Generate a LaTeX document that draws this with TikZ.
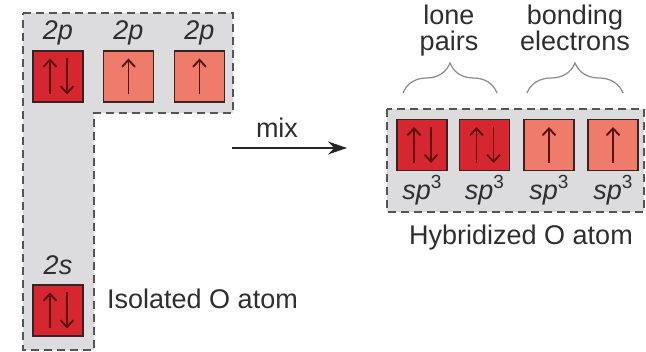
\documentclass[tikz,border=0pt]{standalone}
\usepackage{fontspec}
\setmainfont{Liberation Sans}
\usetikzlibrary{arrows.meta,decorations.pathreplacing}
\definecolor{bgray}{HTML}{DCDCDE}
\definecolor{dashc}{HTML}{555555}
\definecolor{darkred}{HTML}{D6262F}
\definecolor{lightred}{HTML}{EF7B6B}
\definecolor{boxedge}{HTML}{3A2222}
\definecolor{spin}{HTML}{5C1010}
\definecolor{txt}{HTML}{2E2E2E}
\definecolor{bracec}{HTML}{8A8A8A}
\newcommand\spinup[2]{\draw[spinarrow] ([xshift=#2pt]#1.center) ++(0,18) -- ++(0,-36);}
\newcommand\spindown[2]{\draw[spinarrow] ([xshift=#2pt]#1.center) ++(0,-18) -- ++(0,36);}
\newcommand\spthree{\textit{sp}\raisebox{0.42em}{\fontsize{19}{19}\selectfont 3}}
\begin{document}
\begin{tikzpicture}[x=1pt,y=-1pt,
 region/.style={fill=bgray,draw=dashc,line width=1.8pt,dash pattern=on 8pt off 5pt},
 orb/.style={draw=boxedge,line width=1.4pt,minimum width=50pt,minimum height=51pt,inner sep=0pt},
 paired/.style={orb,fill=darkred},
 single/.style={orb,fill=lightred},
 lbl/.style={font=\fontsize{27}{27}\selectfont,text=txt,anchor=base,inner sep=0pt},
 spinarrow/.style={draw=spin,line width=1.9pt,-{Straight Barb[length=7pt,width=13pt]}},
 bracedeco/.style={draw=bracec,line width=1.2pt,decorate,decoration={brace,amplitude=30pt}},
 mixarrow/.style={draw=black!85,line width=1.6pt,-{Stealth[length=19pt,width=13pt]}},
 ]
\useasboundingbox (0,0) rectangle (646,352);
% regions
\draw[region] (23,13) -- (233,13) -- (233,113) -- (94,113) -- (94,350) -- (23,350) -- cycle;
\draw[region] (387,109) rectangle (644,212);
% isolated atom orbitals
\node[paired] (p1) at (58,76.5) {};
\node[single] (p2) at (128.5,76.5) {};
\node[single] (p3) at (199.5,76.5) {};
\node[paired] (s1) at (58,310.5) {};
\spinup{p1}{-8}\spindown{p1}{9}
\spinup{p2}{0}
\spinup{p3}{0}
\spinup{s1}{-8}\spindown{s1}{9}
\node[lbl] (l2p1) at (58,40) {\textit{2p}};
\node[lbl] (l2p2) at (128.5,40) {\textit{2p}};
\node[lbl] (l2p3) at (199.5,40) {\textit{2p}};
\node[lbl] (l2s) at (58,275) {\textit{2s}};
\node[lbl,anchor=base west] (iso) at (107,309) {Isolated O atom};
% mix arrow
\coordinate (m1) at (232,148);
\coordinate (m2) at (347,148);
\draw[mixarrow] (m1) -- (m2);
\node[lbl] (mix) at (277,138) {mix};
% hybridized orbitals
\node[paired] (h1) at (422,145) {};
\node[paired] (h2) at (484.5,145) {};
\node[single] (h3) at (549,145) {};
\node[single] (h4) at (613,145) {};
\spinup{h1}{-8}\spindown{h1}{9}
\spinup{h2}{-8}\spindown{h2}{9}
\spinup{h3}{0}
\spinup{h4}{0}
\node[lbl] (sp1) at (422,200) {\spthree};
\node[lbl] (sp2) at (484.5,200) {\spthree};
\node[lbl] (sp3) at (549,200) {\spthree};
\node[lbl] (sp4) at (613,200) {\spthree};
\node[lbl] (hyb) at (521,245) {Hybridized O atom};
% braces and labels
\coordinate (b1a) at (403,93);
\coordinate (b1b) at (497,93);
\coordinate (b2a) at (527,93);
\coordinate (b2b) at (623,93);
\draw[bracedeco] (b1a) -- (b1b);
\draw[bracedeco] (b2a) -- (b2b);
\node[lbl] (lone) at (449,25) {lone};
\node[lbl] (pairs) at (449,51) {pairs};
\node[lbl] (bond) at (575,25) {bonding};
\node[lbl] (elec) at (575,51) {electrons};
\end{tikzpicture}
\end{document}
